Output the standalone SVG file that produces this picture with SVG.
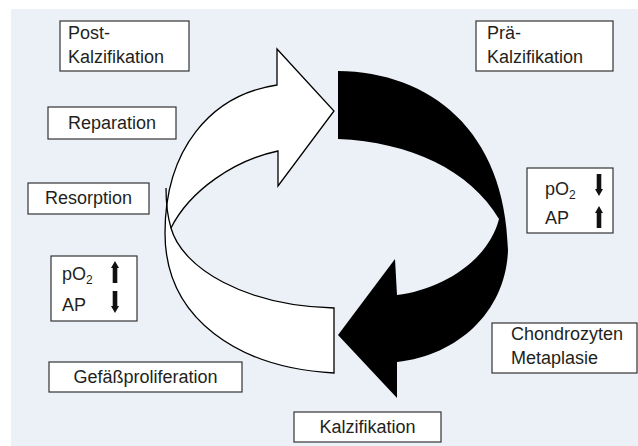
<svg xmlns="http://www.w3.org/2000/svg" width="638" height="446" viewBox="0 0 638 446">
<style>
.box{fill:#fff;stroke:#333;stroke-width:1.2}
.t{font-family:"Liberation Sans",Arial,sans-serif;font-size:18px;fill:#231f20}
.c{text-anchor:middle}
.sub{font-size:12px}
.ln{fill:none;stroke:#000;stroke-width:1.3}
</style>
<defs>
<path id="up" d="M-2.3,0 L-2.3,-15 L-4,-15 L0,-22 L4,-15 L2.3,-15 L2.3,0 Z" fill="#111"/>
</defs>
<rect x="11" y="9" width="627" height="437" fill="#ecf1f8"/>
<g id="connectors">
<path id="white-arrow" d="M277,85 L277,49 L334,111 L278,186 L278,151 C235,160 190,190 171,228 C182,268 245,306 334,308 L334,373 C240,368 165,320 165,233 C165,150 210,95 277,85 Z" fill="#fff" stroke="#000" stroke-width="1.3" stroke-linejoin="miter"/>
<path class="ln" d="M171,228 C168,218 166,205 166,188"/>
<path id="black-arrow" d="M338,71 C430,72 505,130 508,250 C506,310 460,355 397,362 L397,398 L338,335 L395,259 L397,295 C440,290 488,262 499,219 C470,170 410,142 338,139 Z" fill="#000"/>
</g>
<g id="post-kalzifikation"><rect class="box" x="60" y="21" width="129" height="50"/><text class="t" x="68" y="39">Post-</text><text class="t" x="68" y="63">Kalzifikation</text></g>
<g id="reparation"><rect class="box" x="48" y="107" width="128" height="32"/><text class="t c" x="112" y="129">Reparation</text></g>
<g id="resorption"><rect class="box" x="28" y="183" width="121" height="31"/><text class="t c" x="88.5" y="204">Resorption</text></g>
<g id="prae-kalzifikation"><rect class="box" x="476" y="21" width="137" height="50"/><text class="t" x="487" y="39">Prä-</text><text class="t" x="487" y="63">Kalzifikation</text></g>
<g id="po2-right"><rect class="box" x="527" y="168" width="86" height="65"/><text class="t" x="545" y="195">pO<tspan class="sub" dy="4">2</tspan></text><text class="t" x="545" y="224">AP</text><use href="#up" transform="translate(599,174) rotate(180)"/><use href="#up" transform="translate(599,228)"/></g>
<g id="po2-left"><rect class="box" x="51" y="256" width="86" height="65"/><text class="t" x="62" y="280">pO<tspan class="sub" dy="4">2</tspan></text><text class="t" x="62" y="311">AP</text><use href="#up" transform="translate(115,283)"/><use href="#up" transform="translate(115,291) rotate(180)"/></g>
<g id="gefaessproliferation"><rect class="box" x="49" y="362" width="193" height="30"/><text class="t c" x="145.5" y="383">Gefäßproliferation</text></g>
<g id="kalzifikation"><rect class="box" x="294" y="412" width="147" height="30"/><text class="t c" x="367.5" y="433">Kalzifikation</text></g>
<g id="chondrozyten"><rect class="box" x="492" y="323" width="145" height="50"/><text class="t" x="511" y="340">Chondrozyten</text><text class="t" x="511" y="364">Metaplasie</text></g>
</svg>
